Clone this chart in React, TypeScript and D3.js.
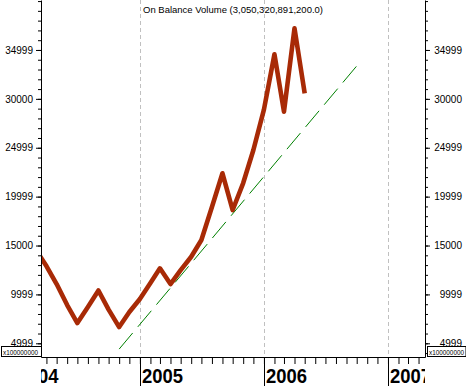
import { useEffect, useRef } from 'react';
import * as d3 from 'd3';

// monthly OBV values (x100000000)
const months = [
	'2004-03-01', '2004-04-01', '2004-05-01', '2004-06-01', '2004-07-01', '2004-08-01',
	'2004-09-01', '2004-10-01', '2004-11-01', '2004-12-01', '2005-01-01', '2005-02-01',
	'2005-03-01', '2005-04-01', '2005-05-01', '2005-06-01', '2005-07-01', '2005-08-01',
	'2005-09-01', '2005-10-01', '2005-11-01', '2005-12-01', '2006-01-01', '2006-02-01',
	'2006-03-01', '2006-04-01', '2006-05-01',
];
const obvValues = [
	14540, 12900, 11060, 8910, 7070, 8710,
	10400, 8450, 6660, 8200, 9530, 11160,
	12670, 11060, 12490, 13850, 15560, 18940,
	22390, 18630, 21390, 24770, 28900, 34560,
	28690, 37220, 30570,
];
const trendDates = ['2004-11-01', '2006-10-01'];
const trendValues = [4410, 33360];

const yTickValues = [5000, 10000, 15000, 20000, 25000, 30000, 35000];
const yTickLabels = ['4999', '9999', '15000', '19999', '24999', '30000', '34999'];
const yMinorValues = d3.range(4000, 40001, 1000);
const years = ['2004', '2005', '2006', '2007'];
const title = 'On Balance Volume (3,050,320,891,200.0)';
const scaleLabel = 'x100000000';

const parse = d3.timeParse('%Y-%m-%d');

export default function App() {
	const ref = useRef<SVGSVGElement | null>(null);

	useEffect(() => {
		document.body.style.margin = '0';
		if (!ref.current) return;
		const svg = d3.select(ref.current);
		svg.selectAll('*').remove();

		const margin = { top: 0, right: 41, bottom: 29, left: 41 };
		const width = 466 - margin.left - margin.right;
		const height = 386 - margin.top - margin.bottom;

		const x = d3
			.scaleTime()
			.domain([parse('2004-03-16')!, parse('2007-04-20')!])
			.range([0, width]);
		const y = d3.scaleLinear().domain([3600, 40110]).range([height, 0]);

		svg.append('rect').attr('width', 466).attr('height', 386).attr('fill', '#fff');

		const defs = svg.append('defs');
		defs.append('clipPath').attr('id', 'plot-clip')
			.append('rect').attr('width', width).attr('height', height);
		defs.append('clipPath').attr('id', 'xlab-clip')
			.append('rect').attr('y', height).attr('width', width).attr('height', margin.bottom);

		const g = svg.append('g').attr('transform', `translate(${margin.left},${margin.top})`);

		// year grid lines
		const yearDates = years.map(yr => parse(`${yr}-01-01`)!);
		g.append('g')
			.selectAll('line')
			.data(yearDates.filter(d => x(d) > 0 && x(d) < width))
			.join('line')
			.attr('x1', d => Math.round(x(d)) + 0.5)
			.attr('x2', d => Math.round(x(d)) + 0.5)
			.attr('y1', 0)
			.attr('y2', height)
			.attr('stroke', '#c0c0c0')
			.attr('stroke-dasharray', '4,3');

		// trend line
		const trend = trendDates.map((d, i) => [x(parse(d)!), y(trendValues[i])] as [number, number]);
		g.append('path')
			.attr('d', d3.line()(trend))
			.attr('fill', 'none')
			.attr('stroke', '#008000')
			.attr('stroke-width', 1)
			.attr('stroke-dasharray', '21,8')
			.attr('clip-path', 'url(#plot-clip)');

		// OBV line
		const pts = months.map((d, i) => [x(parse(d)!), y(obvValues[i])] as [number, number]);
		g.append('path')
			.attr('d', d3.line()(pts))
			.attr('fill', 'none')
			.attr('stroke', '#a82a06')
			.attr('stroke-width', 4.6)
			.attr('stroke-linejoin', 'round')
			.attr('clip-path', 'url(#plot-clip)');

		const styleAxis = (sel: d3.Selection<SVGGElement, unknown, null, undefined>) => {
			sel.attr('font-family', 'Liberation Sans, Arial, sans-serif').attr('font-size', 10);
			sel.selectAll('path,line').attr('stroke', '#000');
			sel.selectAll('text').attr('fill', '#000');
		};

		// left axis
		g.append('g')
			.call(d3.axisLeft(y).tickValues(yMinorValues).tickSize(3).tickSizeOuter(0).tickFormat(() => ''))
			.call(styleAxis);
		g.append('g')
			.call(
				d3.axisLeft(y).tickValues(yTickValues).tickSize(5).tickSizeOuter(0).tickPadding(3)
					.tickFormat((_, i) => yTickLabels[i])
			)
			.call(styleAxis)
			.select('.domain').remove();

		// right axis
		g.append('g')
			.attr('transform', `translate(${width},0)`)
			.call(d3.axisRight(y).tickValues(yMinorValues).tickSize(3).tickSizeOuter(0).tickFormat(() => ''))
			.call(styleAxis);
		const right = g.append('g')
			.attr('transform', `translate(${width},0)`)
			.call(
				d3.axisRight(y).tickValues(yTickValues).tickSize(5).tickSizeOuter(0)
					.tickFormat((_, i) => yTickLabels[i])
			)
			.call(styleAxis);
		right.select('.domain').remove();
		right.selectAll('text').attr('x', 37).attr('text-anchor', 'end');

		// bottom axis, monthly ticks
		g.append('g')
			.attr('transform', `translate(0,${height})`)
			.call(d3.axisBottom(x).ticks(d3.timeMonth.every(1)).tickSize(7).tickSizeOuter(0).tickFormat(() => ''))
			.call(styleAxis);

		// year ticks + labels
		const yg = g.append('g').attr('clip-path', 'url(#xlab-clip)');
		yg.selectAll('line')
			.data(yearDates)
			.join('line')
			.attr('x1', d => Math.round(x(d)) + 0.5)
			.attr('x2', d => Math.round(x(d)) + 0.5)
			.attr('y1', height)
			.attr('y2', 386)
			.attr('stroke', '#000');
		yg.selectAll('text')
			.data(yearDates)
			.join('text')
			.attr('x', d => x(d) + 2)
			.attr('y', 383)
			.attr('font-family', 'Liberation Sans, Arial, sans-serif')
			.attr('font-weight', 'bold')
			.attr('font-size', 21)
			.attr('textLength', 41)
			.attr('lengthAdjust', 'spacingAndGlyphs')
			.text((_, i) => years[i]);

		// scale boxes
		[{ x0: 1.5, x1: margin.left + 0.5 }, { x0: margin.left + width + 2.5, x1: 466 }].forEach(b => {
			svg.append('rect')
				.attr('x', b.x0)
				.attr('y', 346.5)
				.attr('width', b.x1 - b.x0)
				.attr('height', 10)
				.attr('fill', '#fff')
				.attr('stroke', '#000');
			svg.append('text')
				.attr('x', b.x0 + 1.5)
				.attr('y', 354.5)
				.attr('font-family', 'Liberation Sans, Arial, sans-serif')
				.attr('font-size', 7)
				.attr('textLength', 35)
				.attr('lengthAdjust', 'spacingAndGlyphs')
				.text(scaleLabel);
		});

		// title
		svg.append('text')
			.attr('x', margin.left + width / 2)
			.attr('y', 13)
			.attr('text-anchor', 'middle')
			.attr('font-family', 'Liberation Sans, Arial, sans-serif')
			.attr('font-size', 9.5)
			.attr('textLength', 180)
			.attr('lengthAdjust', 'spacingAndGlyphs')
			.text(title);
	}, []);

	return <svg width="466" height="386" ref={ref} style={{ display: 'block' }} />;
}
